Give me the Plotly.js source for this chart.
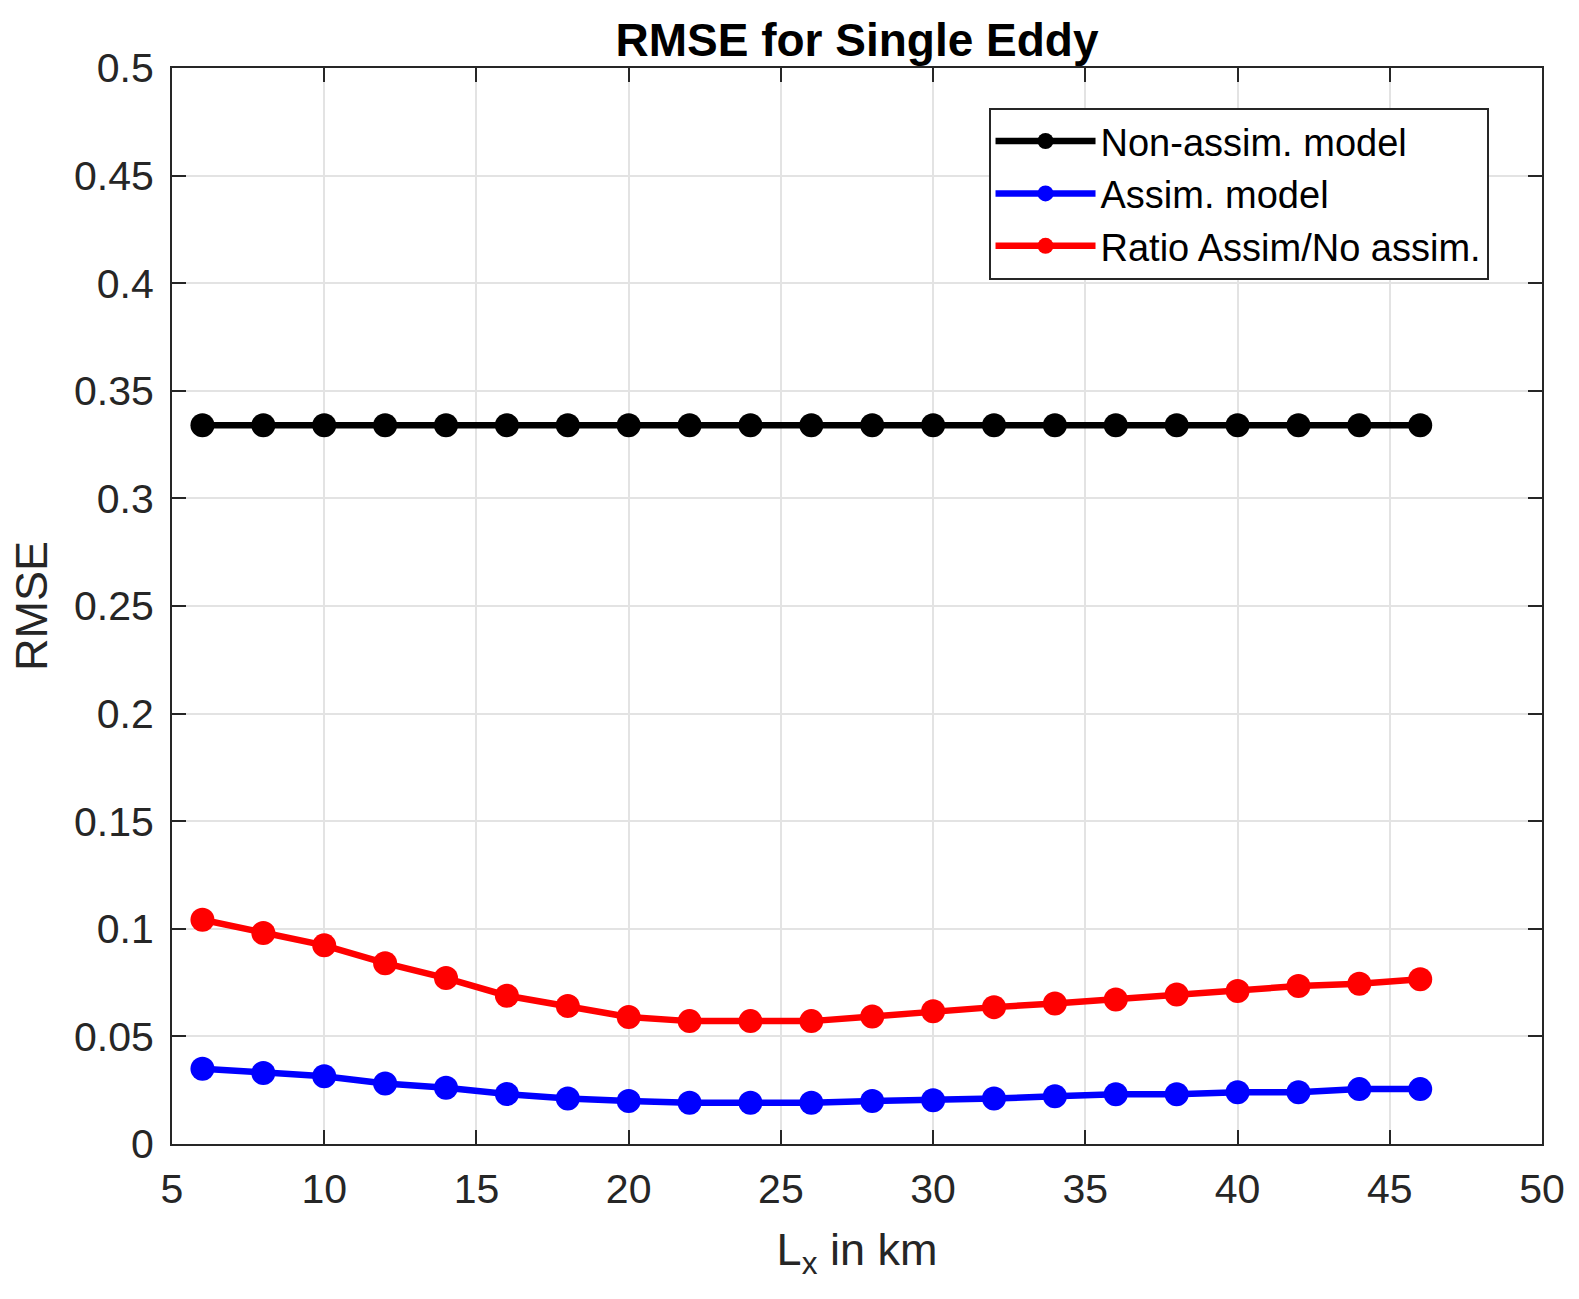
<!DOCTYPE html>
<html>
<head>
<meta charset="utf-8">
<script src="https://cdn.plot.ly/plotly-3.0.1.min.js"></script>
<style>html,body{margin:0;padding:0;background:#fff;}#chart{width:1579px;height:1299px;}</style>
</head>
<body>
<div id="chart"></div>
<script>
const lx = [6, 8, 10, 12, 14, 16, 18, 20, 22, 24, 26, 28, 30, 32, 34, 36, 38, 40, 42, 44, 46];
const nonAssim = [0.334, 0.334, 0.334, 0.334, 0.334, 0.334, 0.334, 0.334, 0.334, 0.334, 0.334, 0.334, 0.334, 0.334, 0.334, 0.334, 0.334, 0.334, 0.334, 0.334, 0.334];
const assim = [0.035, 0.033, 0.0315, 0.0281, 0.0261, 0.0232, 0.0211, 0.020, 0.0192, 0.0192, 0.0192, 0.020, 0.0203, 0.0211, 0.0222, 0.0231, 0.0231, 0.0241, 0.0241, 0.0255, 0.0255];
const ratio = [0.1042, 0.098, 0.0923, 0.084, 0.0771, 0.0689, 0.0641, 0.059, 0.0571, 0.0571, 0.0571, 0.0593, 0.0617, 0.0636, 0.0653, 0.0672, 0.0695, 0.0711, 0.0734, 0.0745, 0.0766];
const seriesNames = ['Non-assim. model', 'Assim. model', 'Ratio Assim/No assim.'];
const xTicks = [5, 10, 15, 20, 25, 30, 35, 40, 45, 50];
const yTickVals = [0, 0.05, 0.1, 0.15, 0.2, 0.25, 0.3, 0.35, 0.4, 0.45, 0.5];
const yTickText = ['0', '0.05', '0.1', '0.15', '0.2', '0.25', '0.3', '0.35', '0.4', '0.45', '0.5'];

const FONT = 'Liberation Sans, Arial, Helvetica, sans-serif';
function tr(y, name, color) {
  return {x: lx, y: y, name: name, type: 'scatter', mode: 'lines+markers',
    line: {color: color, width: 6.5}, marker: {color: color, size: 24, symbol: 'circle'}};
}
const data = [tr(nonAssim, seriesNames[0], '#000000'), tr(assim, seriesNames[1], '#0000ff'), tr(ratio, seriesNames[2], '#ff0000')];

const axisCommon = {
  showline: true, mirror: 'ticks', linecolor: '#262626', linewidth: 2,
  ticks: 'inside', ticklen: 14, tickwidth: 2, tickcolor: '#262626',
  showgrid: true, gridcolor: '#e3e3e3', gridwidth: 2, zeroline: false,
  tickfont: {family: FONT, size: 41, color: '#262626'}
};
const layout = {
  width: 1579, height: 1299,
  margin: {l: 172, r: 37, t: 68, b: 155},
  paper_bgcolor: '#ffffff', plot_bgcolor: '#ffffff',
  title: {text: '<b>RMSE for Single Eddy</b>', x: 0.5, xref: 'paper', y: 0.969, yanchor: 'middle',
    font: {family: FONT, size: 46, color: '#000'}},
  xaxis: Object.assign({}, axisCommon, {range: [5, 50], tickvals: xTicks, ticktext: xTicks.map(String),
    ticklabelstandoff: 8,
    title: {text: 'L<sub>x</sub> in km', font: {family: FONT, size: 45, color: '#262626'}, standoff: 22}}),
  yaxis: Object.assign({}, axisCommon, {range: [0, 0.5], tickvals: yTickVals, ticktext: yTickText,
    ticklabelstandoff: 8,
    title: {text: 'RMSE', font: {family: FONT, size: 45, color: '#262626'}, standoff: 12}}),
  legend: {x: 0.596, y: 0.963, xanchor: 'left', yanchor: 'top', bgcolor: '#ffffff',
    bordercolor: '#262626', borderwidth: 2, itemwidth: 100, entrywidth: 500,
    font: {family: FONT, size: 38, color: '#000'}, tracegroupgap: 0},
  showlegend: true
};
Plotly.newPlot('chart', data, layout, {displayModeBar: false, staticPlot: true});
</script>
</body>
</html>
